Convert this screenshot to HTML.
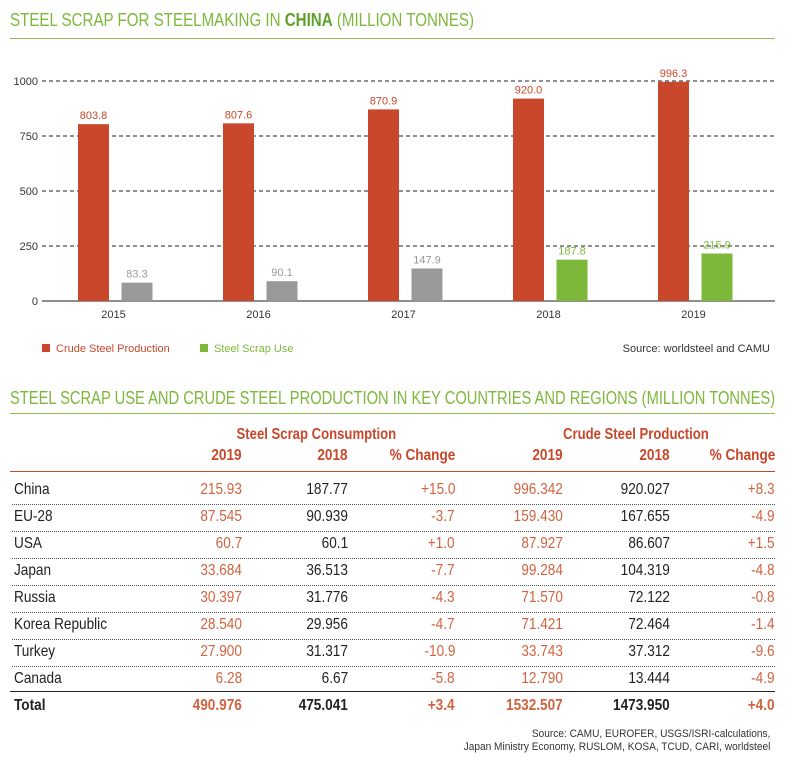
<!DOCTYPE html>
<html><head><meta charset="utf-8"><style>
body{margin:0;width:797px;height:769px;background:#fff;position:relative;font-family:"Liberation Sans",sans-serif;overflow:hidden}
.t{position:absolute;white-space:nowrap}
.title{font-size:18px;color:#7db83a;left:10px;transform-origin:left top}
.hr{position:absolute;left:10px;width:765px;height:1px;background:#8dc04f}
.row{position:absolute;left:12px;width:763px;height:27px;font-size:16px}
.row span{position:absolute;top:4px;white-space:nowrap}
.red{color:#d2623f}.blk{color:#222}
.ctr{position:absolute;width:400px;text-align:center;font-size:16px;font-weight:bold;color:#c9472a}
.ctr span{display:inline-block;transform:scaleX(.82)}
</style></head><body>
<div class="t title" style="top:10px;transform:scaleX(.84)">STEEL SCRAP FOR STEELMAKING IN <b style="color:#5ea02a">CHINA</b> (MILLION TONNES)</div>
<div class="hr" style="top:38px"></div>
<svg id="chart" width="797" height="370" style="position:absolute;left:0;top:0" font-family="Liberation Sans, sans-serif"></svg>
<div class="t" style="right:27px;top:343px;font-size:11px;color:#333">Source: worldsteel and CAMU</div>
<div class="t title" style="top:388px;transform:scaleX(.817)">STEEL SCRAP USE AND CRUDE STEEL PRODUCTION IN KEY COUNTRIES AND REGIONS (MILLION TONNES)</div>
<div class="hr" style="top:413px"></div>
<div class="ctr" style="left:116px;top:426px"><span>Steel Scrap Consumption</span></div>
<div class="ctr" style="left:436px;top:426px"><span>Crude Steel Production</span></div>
<div id="years" style="position:absolute;left:0;top:447px;width:797px;height:20px;font-size:16px;font-weight:bold;color:#c9472a"></div>
<div style="position:absolute;left:10px;top:471px;width:765px;height:1px;background:#c9472a"></div>
<div id="rows"></div>
<div style="position:absolute;left:10px;top:691px;width:765px;height:1px;background:#222"></div>
<div class="t" style="right:27px;top:728px;font-size:11px;color:#333;text-align:right;line-height:13px;transform:scaleX(.92);transform-origin:right top">Source: CAMU, EUROFER, USGS/ISRI-calculations,<br>Japan Ministry Economy, RUSLOM, KOSA, TCUD, CARI, worldsteel</div>
<script>
const years=["2015","2016","2017","2018","2019"];
const crude=[803.8,807.6,870.9,920.0,996.3];
const scrap=[83.3,90.1,147.9,187.8,215.9];
const ticks=[0,250,500,750,1000];
const NS="http://www.w3.org/2000/svg";
const svg=document.getElementById('chart');
const y=v=>301-v*0.22;
const xc=i=>115.5+i*145;
function mk(tag,a,txt){const e=document.createElementNS(NS,tag);for(const k in a)e.setAttribute(k,a[k]);if(txt!=null)e.textContent=txt;svg.appendChild(e);return e;}
ticks.forEach(t=>{
 const l=mk('line',{x1:42,x2:775,y1:y(t),y2:y(t),stroke:'#222','stroke-width':1,'stroke-dasharray':t?'4,3':''});
 
 
 const tx=mk('text',{x:38,y:y(t)+4,'text-anchor':'end','font-size':11,fill:'#333'},t);
 
 
});
years.forEach((yr,i)=>{
 const c=xc(i);
 const sc=i>=3?'#7db83a':'#999';
 const b1=mk('rect',{x:c-37.5,y:y(crude[i]),width:31,height:crude[i]*0.22,fill:'#c9472a'});
 
 
 const l1=mk('text',{x:c-22,y:y(crude[i])-5,'text-anchor':'middle','font-size':11,fill:'#c9472a'},crude[i].toFixed(1));
 
 
 const b2=mk('rect',{x:c+6,y:y(scrap[i]),width:31,height:scrap[i]*0.22,fill:sc});
 
 
 const l2=mk('text',{x:c+21.5,y:y(scrap[i])-5,'text-anchor':'middle','font-size':11,fill:sc},scrap[i].toFixed(1));
 
 
 const xl=mk('text',{x:c-2,y:318,'text-anchor':'middle','font-size':11,fill:'#333'},yr);
 
 
});
let g=mk('rect',{x:42,y:344,width:8,height:8,fill:'#c9472a'});


g=mk('text',{x:56,y:352,'font-size':11,fill:'#c9472a'},'Crude Steel Production');


g=mk('rect',{x:200,y:344,width:8,height:8,fill:'#7db83a'});


g=mk('text',{x:214,y:352,'font-size':11,fill:'#7db83a'},'Steel Scrap Use');



const rights=[242,348,455,563,670,775];
const hdr=["2019","2018","% Change","2019","2018","% Change"];
const yh=document.getElementById('years');
hdr.forEach((h,i)=>{const s=document.createElement('span');s.className='t';s.style.right=(797-rights[i])+'px';s.textContent=h;
 s.style.transform='scaleX(.85)';s.style.transformOrigin='right top';
 
 
 yh.appendChild(s);});
const rowsData=[
["China","215.93","187.77","+15.0","996.342","920.027","+8.3"],
["EU-28","87.545","90.939","-3.7","159.430","167.655","-4.9"],
["USA","60.7","60.1","+1.0","87.927","86.607","+1.5"],
["Japan","33.684","36.513","-7.7","99.284","104.319","-4.8"],
["Russia","30.397","31.776","-4.3","71.570","72.122","-0.8"],
["Korea Republic","28.540","29.956","-4.7","71.421","72.464","-1.4"],
["Turkey","27.900","31.317","-10.9","33.743","37.312","-9.6"],
["Canada","6.28","6.67","-5.8","12.790","13.444","-4.9"],
["Total","490.976","475.041","+3.4","1532.507","1473.950","+4.0"]];
const rc=document.getElementById('rows');
rowsData.forEach((r,k)=>{
 const d=document.createElement('div');d.className='row';d.style.top=(477+k*27)+'px';
 if(k<7)d.style.borderBottom='1px dotted #555';
 if(k==8)d.style.fontWeight='bold';
 
 
 r.forEach((v,i)=>{const s=document.createElement('span');s.textContent=v;
  s.style.transform='scaleX(.85)';
  if(i==0){s.style.left='2px';s.className='blk';s.style.transformOrigin='left top';}
  else{s.style.right=(775-rights[i-1])+'px';s.className=(i==2||i==5)?'blk':'red';s.style.transformOrigin='right top';}
  d.appendChild(s);});
 rc.appendChild(d);
});
</script>
</body></html>
